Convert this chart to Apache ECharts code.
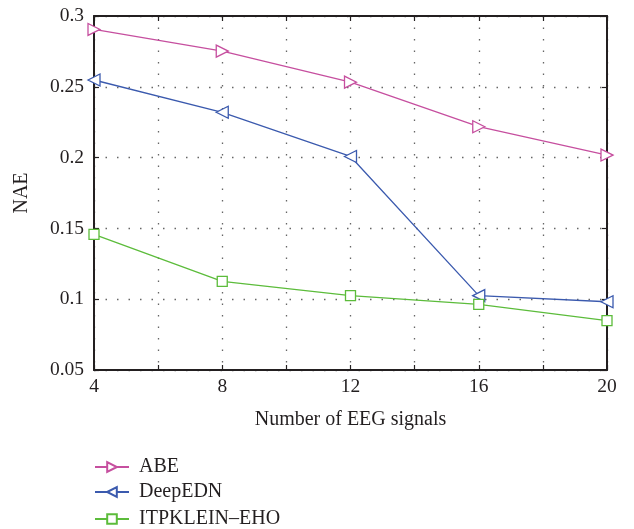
<!DOCTYPE html>
<html><head><meta charset="utf-8">
<script src="https://cdn.jsdelivr.net/npm/echarts@6/dist/echarts.min.js"></script>
<style>html,body{margin:0;padding:0;background:#fff}#c{width:634px;height:529px}</style>
</head><body><div id="c"></div>
<script>
const xValues = [4, 8, 12, 16, 20];
const abe = [0.2905, 0.2752, 0.2533, 0.2218, 0.2018];
const deepEDN = [0.2548, 0.232, 0.2008, 0.1025, 0.0982];
const itpklein = [0.1458, 0.1126, 0.1025, 0.0964, 0.0848];
const seriesNames = ['ABE', 'DeepEDN', 'ITPKLEIN\u2013EHO'];
const xLabelTicks = [4, 8, 12, 16, 20];

const font = '"Liberation Serif", "DejaVu Serif", serif';
const chart = echarts.init(document.getElementById('c'));
const pair = arr => xValues.map((x, i) => [x, arr[i]]);
const mk = (name, data, color, symbol, rot, size) => ({
  name, type: 'line', data: pair(data),
  symbol, symbolSize: size, symbolRotate: rot,
  showSymbol: true,
  itemStyle: { color: '#fff', borderColor: color, borderWidth: 1.3 },
  lineStyle: { color, width: 1.3 },
  emphasis: { disabled: true },
  z: 5
});
const axisLine = { show: true, lineStyle: { color: '#231f20', width: 2 } };
const tick = { show: true, inside: true, length: 5, lineStyle: { color: '#231f20', width: 1.2 } };
const split = { show: true, lineStyle: { color: '#666', type: [1.5, 10], width: 1.3 } };
const legendRows = [452, 477, 504];
const legends = seriesNames.map((n, i) => ({
  orient: 'vertical', left: 89, top: legendRows[i],
  itemWidth: 34, itemHeight: 12,
  textStyle: { fontFamily: font, fontSize: 20, color: '#231f20', padding: [0, 0, 0, 5] },
  data: [n]
}));
chart.setOption({
  animation: false,
  textStyle: { fontFamily: font },
  grid: { left: 94, right: 27, top: 16, bottom: 159 },
  legend: legends,
  xAxis: [{
    type: 'value', min: 4, max: 20, interval: 2,
    name: 'Number of EEG signals', nameLocation: 'middle', nameGap: 40,
    nameTextStyle: { fontFamily: font, fontSize: 20, color: '#231f20' },
    axisLine, axisTick: tick,
    axisLabel: { fontFamily: font, fontSize: 19.5, color: '#231f20', margin: 7,
      formatter: v => xLabelTicks.includes(v) ? String(v) : '' },
    splitLine: split
  }, {
    type: 'value', position: 'top', min: 4, max: 20, interval: 2,
    axisLine, axisTick: tick,
    axisLabel: { show: false }, splitLine: { show: false }
  }],
  yAxis: [{
    type: 'value', min: 0.05, max: 0.3, interval: 0.05,
    name: 'NAE', nameLocation: 'middle', nameGap: 62, nameRotate: 90,
    nameTextStyle: { fontFamily: font, fontSize: 20, color: '#231f20' },
    axisLine, axisTick: tick,
    axisLabel: { fontFamily: font, fontSize: 19.5, color: '#231f20', margin: 10,
      formatter: v => String(parseFloat(v.toFixed(2))) },
    splitLine: split
  }, {
    type: 'value', position: 'right', min: 0.05, max: 0.3, interval: 0.05,
    axisLine, axisTick: tick,
    axisLabel: { show: false }, splitLine: { show: false }
  }],
  series: [
    mk(seriesNames[0], abe, '#c64f9f', 'triangle', -90, 12),
    mk(seriesNames[1], deepEDN, '#3b5aae', 'triangle', 90, 12),
    mk(seriesNames[2], itpklein, '#5cbc3b', 'rect', 0, 10)
  ]
});
</script></body></html>
